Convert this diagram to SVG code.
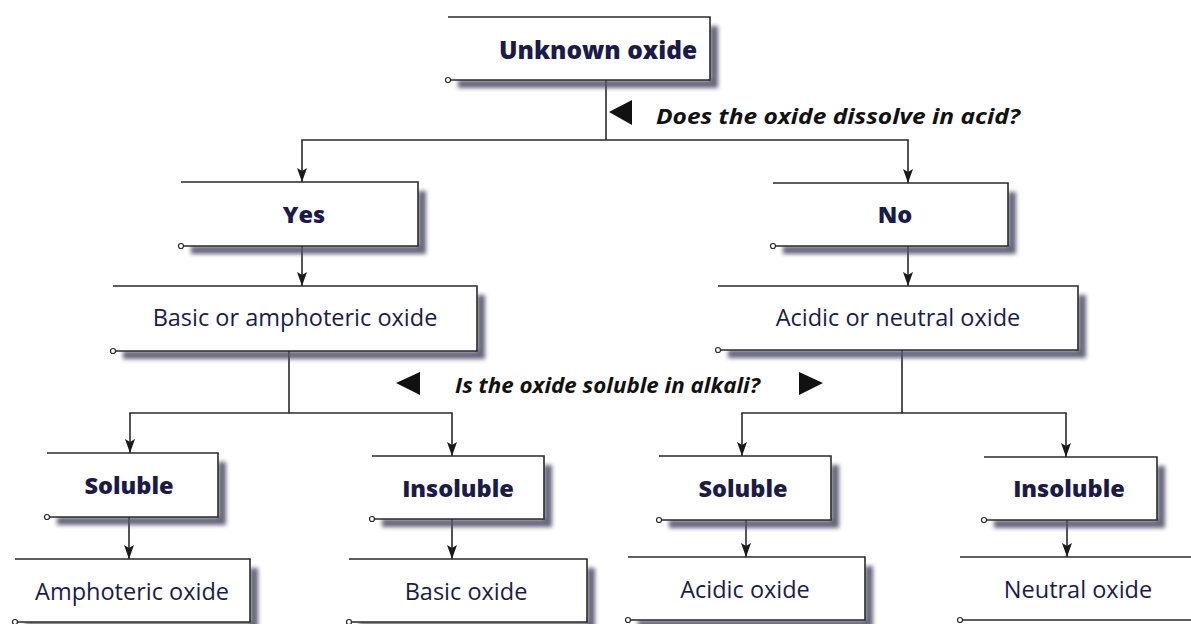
<svg xmlns="http://www.w3.org/2000/svg" width="1191" height="624" viewBox="0 0 1191 624">
<defs>
<filter id="blur" x="-10%" y="-50%" width="120%" height="200%"><feGaussianBlur stdDeviation="2.2"/></filter>
<marker id="ah" viewBox="0 0 14 10" refX="14" refY="5" markerWidth="14" markerHeight="10" markerUnits="userSpaceOnUse" orient="auto">
<path d="M0 0 L14 5 L0 10 L3 5 Z" fill="#1a1a1a"/>
</marker>
<style>
.bg{fill:#fff}
.sh{fill:none;stroke:#55556e;stroke-width:8;filter:url(#blur);opacity:0.9}
.bx{fill:none;stroke:#2a2a2a;stroke-width:1.6}
.dot{fill:#fff;stroke:#2a2a2a;stroke-width:1.2}
.tb{font-family:"Open Sans","Liberation Sans",sans-serif;font-weight:800;font-size:23.5px;fill:#1b1b4a;text-anchor:middle}
.tr{font-family:"Open Sans","Liberation Sans",sans-serif;font-weight:400;font-size:23.5px;fill:#1b1b4a;text-anchor:middle}
.q{font-family:"Open Sans","Liberation Sans",sans-serif;font-weight:700;font-style:italic;font-size:22px;fill:#111}
.ln{fill:none;stroke:#2a2a2a;stroke-width:1.6}
.tri{fill:#111}
</style>
</defs>
<rect x="0" y="0" width="1191" height="624" fill="#fff"/>

<g id="connectors">
<path class="ln" d="M606 80 V140"/>
<path class="ln" d="M606 140 H302 V182" marker-end="url(#ah)"/>
<path class="ln" d="M606 140 H908 V183" marker-end="url(#ah)"/>
<path class="ln" d="M302 246 V286" marker-end="url(#ah)"/>
<path class="ln" d="M908 246 V286" marker-end="url(#ah)"/>
<path class="ln" d="M289 351 V413 H130 V453" marker-end="url(#ah)"/>
<path class="ln" d="M289 413 H452 V456" marker-end="url(#ah)"/>
<path class="ln" d="M902 350 V413 H742 V456" marker-end="url(#ah)"/>
<path class="ln" d="M902 413 H1066 V457" marker-end="url(#ah)"/>
<path class="ln" d="M129 517 V559" marker-end="url(#ah)"/>
<path class="ln" d="M452 519 V559" marker-end="url(#ah)"/>
<path class="ln" d="M746 520 V557" marker-end="url(#ah)"/>
<path class="ln" d="M1067 520 V557" marker-end="url(#ah)"/>
</g>

<g id="q1">
<polygon class="tri" points="609,112 632,100 632,125"/>
<text class="q" x="656" y="124" textLength="364" lengthAdjust="spacingAndGlyphs">Does the oxide dissolve in acid?</text>
</g>
<g id="q2">
<polygon class="tri" points="396,383 420,372 420,395"/>
<polygon class="tri" points="823,383 799,372 799,395"/>
<text class="q" x="455" y="393" textLength="305" lengthAdjust="spacingAndGlyphs">Is the oxide soluble in alkali?</text>
</g>

<g id="n-unknown">
<path class="sh" d="M458 84 H714 V26"/>
<rect class="bg" x="448" y="17" width="262" height="63"/>
<path class="bx" d="M448 17 H710 V80 H448"/>
<circle class="dot" cx="448" cy="80" r="2.5"/>
<text class="tb" x="598" y="59" style="font-size:24.5px">Unknown oxide</text>
</g>

<g id="n-yes">
<path class="sh" d="M191 250 H422 V191"/>
<rect class="bg" x="181" y="182" width="237" height="64"/>
<path class="bx" d="M181 182 H418 V246 H181"/>
<circle class="dot" cx="181" cy="246" r="2.5"/>
<text class="tb" x="304" y="223">Yes</text>
</g>

<g id="n-no">
<path class="sh" d="M783 250 H1012 V192"/>
<rect class="bg" x="773" y="183" width="235" height="63"/>
<path class="bx" d="M773 183 H1008 V246 H773"/>
<circle class="dot" cx="773" cy="246" r="2.5"/>
<text class="tb" x="895" y="223">No</text>
</g>

<g id="n-basic-amph">
<path class="sh" d="M123 355 H481 V295"/>
<rect class="bg" x="113" y="286" width="364" height="65"/>
<path class="bx" d="M113 286 H477 V351 H113"/>
<circle class="dot" cx="113" cy="351" r="2.5"/>
<text class="tr" x="295" y="326">Basic or amphoteric oxide</text>
</g>

<g id="n-acid-neut">
<path class="sh" d="M728 354 H1082 V295"/>
<rect class="bg" x="718" y="286" width="360" height="64"/>
<path class="bx" d="M718 286 H1078 V350 H718"/>
<circle class="dot" cx="718" cy="350" r="2.5"/>
<text class="tr" x="898" y="326">Acidic or neutral oxide</text>
</g>

<g id="n-sol-l">
<path class="sh" d="M57 521 H222 V462"/>
<rect class="bg" x="47" y="453" width="171" height="64"/>
<path class="bx" d="M47 453 H218 V517 H47"/>
<circle class="dot" cx="47" cy="517" r="2.5"/>
<text class="tb" x="129" y="494">Soluble</text>
</g>

<g id="n-insol-l">
<path class="sh" d="M382 523 H548 V465"/>
<rect class="bg" x="372" y="456" width="172" height="63"/>
<path class="bx" d="M372 456 H544 V519 H372"/>
<circle class="dot" cx="372" cy="519" r="2.5"/>
<text class="tb" x="458" y="497">Insoluble</text>
</g>

<g id="n-sol-r">
<path class="sh" d="M669 524 H835 V465"/>
<rect class="bg" x="659" y="456" width="172" height="64"/>
<path class="bx" d="M659 456 H831 V520 H659"/>
<circle class="dot" cx="659" cy="520" r="2.5"/>
<text class="tb" x="743" y="497">Soluble</text>
</g>

<g id="n-insol-r">
<path class="sh" d="M994 524 H1161 V466"/>
<rect class="bg" x="984" y="457" width="173" height="63"/>
<path class="bx" d="M984 457 H1157 V520 H984"/>
<circle class="dot" cx="984" cy="520" r="2.5"/>
<text class="tb" x="1069" y="497">Insoluble</text>
</g>

<g id="n-amph">
<path class="sh" d="M25 626 H254 V568"/>
<rect class="bg" x="15" y="559" width="235" height="63"/>
<path class="bx" d="M15 559 H250 V622 H15"/>
<circle class="dot" cx="15" cy="622" r="2.5"/>
<text class="tr" x="132" y="600">Amphoteric oxide</text>
</g>

<g id="n-basic">
<path class="sh" d="M359 626 H591 V568"/>
<rect class="bg" x="349" y="559" width="238" height="63"/>
<path class="bx" d="M349 559 H587 V622 H349"/>
<circle class="dot" cx="349" cy="622" r="2.5"/>
<text class="tr" x="466" y="600">Basic oxide</text>
</g>

<g id="n-acidic">
<path class="sh" d="M638 624 H869 V566"/>
<rect class="bg" x="628" y="557" width="237" height="63"/>
<path class="bx" d="M628 557 H865 V620 H628"/>
<circle class="dot" cx="628" cy="620" r="2.5"/>
<text class="tr" x="745" y="598">Acidic oxide</text>
</g>

<g id="n-neutral">
<path class="sh" d="M970 624 H1200"/>
<rect class="bg" x="960" y="557" width="240" height="63"/>
<path class="bx" d="M960 557 H1200 M1200 620 H960"/>
<circle class="dot" cx="960" cy="620" r="2.5"/>
<text class="tr" x="1078" y="598">Neutral oxide</text>
</g>
</svg>
